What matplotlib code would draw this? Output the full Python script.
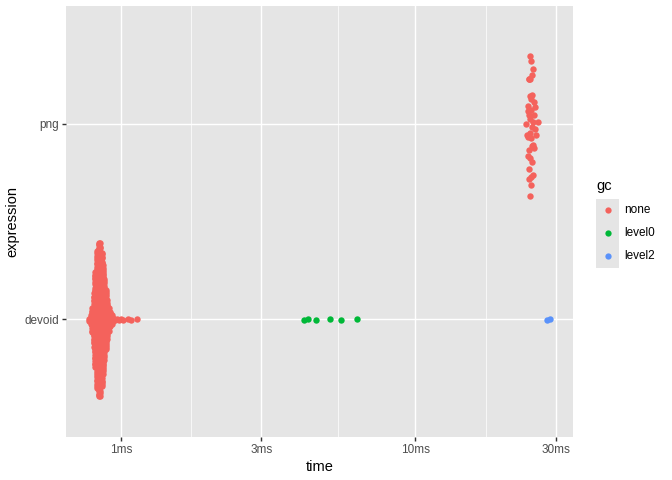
import numpy as np
import matplotlib
matplotlib.use("Agg")
import matplotlib.pyplot as plt
from matplotlib.patches import Rectangle
from matplotlib.lines import Line2D

plt.rcParams['font.family'] = ['Liberation Sans', 'DejaVu Sans']

# run times in ms, read off the swarm
# devoid / gc none: dense body given as bin value + count, then a few slow runs
devoid_none_ms = [0.78, 0.79, 0.80, 0.81, 0.82, 0.83, 0.84, 0.85, 0.86,
                  0.87, 0.88, 0.89, 0.90, 0.91, 0.92, 0.93, 0.94]
devoid_none_n = [2, 5, 12, 26, 45, 64, 72, 70, 62, 50, 38, 27, 18, 11, 7, 4, 2]
devoid_none_tail_ms = [0.955, 0.97, 0.985, 1.0, 1.02, 1.055, 1.085, 1.135]
devoid_level0_ms = [4.19, 4.31, 4.59, 5.14, 5.61, 6.35]
devoid_level2_ms = [27.87, 28.62]
png_none_ms = [23.72, 23.95, 24.03, 24.09, 24.14, 24.17, 24.22, 24.26, 24.28,
               24.33, 24.35, 24.39, 24.41, 24.45, 24.48, 24.50, 24.54, 24.57,
               24.58, 24.63, 24.66, 24.68, 24.70, 24.75, 24.77, 24.81, 24.84,
               24.86, 24.91, 24.93, 24.98, 25.03, 25.06, 25.12, 25.17, 25.24,
               25.31, 25.42, 25.51, 25.66, 25.98]

expressions = ["devoid", "png"]
gc_levels = ["none", "level0", "level2"]
gc_colors = ["#F4625C", "#00B838", "#5A92FA"]
x_breaks_ms = [1, 3, 10, 30]
x_labels = ["1ms", "3ms", "10ms", "30ms"]

PANEL_BG = "#E5E5E5"


def van_der_corput(n, base=2):
    out = []
    for i in range(1, n + 1):
        q, denom, v = i, 1.0, 0.0
        while q:
            denom *= base
            q, r = divmod(q, base)
            v += r / denom
        out.append(v)
    return np.array(out)


def nrd0(x):
    sd = np.std(x, ddof=1)
    q75, q25 = np.percentile(x, [75, 25])
    lo = min(sd, (q75 - q25) / 1.34)
    if lo <= 0:
        lo = sd if sd > 0 else 1.0
    return 0.9 * lo * len(x) ** -0.2


def quasirandom(v, width=0.4, adjust=0.5):
    """offsets like ggbeeswarm::geom_quasirandom (density scaled van der Corput)"""
    v = np.asarray(v, dtype=float)
    if len(v) < 2:
        return np.zeros(len(v))
    bw = nrd0(v) * adjust
    d = np.exp(-0.5 * ((v[:, None] - v[None, :]) / bw) ** 2).sum(axis=1)
    d = d / d.max()
    rank = np.argsort(np.argsort(v, kind="stable"), kind="stable")
    return (van_der_corput(len(v))[rank] - 0.5) * 2 * d * width


# (expression, gc, time) records
rows = []
for t in np.repeat(devoid_none_ms, devoid_none_n):
    rows.append((0, 0, t))
for t in devoid_none_tail_ms:
    rows.append((0, 0, t))
for t in devoid_level0_ms:
    rows.append((0, 1, t))
for t in devoid_level2_ms:
    rows.append((0, 2, t))
for t in png_none_ms:
    rows.append((1, 0, t))
rows = np.array(rows)

expr = rows[:, 0].astype(int)
gc = rows[:, 1].astype(int)
times = rows[:, 2]
ypos = expr + 1.0
for e in range(len(expressions)):
    m = expr == e
    ypos[m] += quasirandom(np.log10(times[m]))

fig = plt.figure(figsize=(7, 5), dpi=96)
ax = fig.add_axes([66 / 672, 43 / 480, 507 / 672, 431 / 480])
ax.set_facecolor(PANEL_BG)
for s in ax.spines.values():
    s.set_visible(False)

for g, col in enumerate(gc_colors):
    m = gc == g
    ax.scatter(times[m], ypos[m], s=23, color=col, linewidths=0, zorder=3)

ax.set_xscale("log")
lo, hi = np.log10(times.min()), np.log10(times.max())
pad = 0.05 * (hi - lo)
ax.set_xlim(10 ** (lo - pad), 10 ** (hi + pad))
ax.set_ylim(0.4, 2.6)
ax.set_xticks(x_breaks_ms)
ax.set_xticklabels(x_labels)
ax.set_xticks([np.sqrt(x_breaks_ms[i] * x_breaks_ms[i + 1]) for i in range(3)], minor=True)
ax.set_xticklabels([], minor=True)
ax.set_yticks([1, 2])
ax.set_yticklabels(expressions)
ax.tick_params(which="major", length=2.75, width=1.07, color="#333333",
               labelsize=8.8, labelcolor="#4D4D4D", pad=2.2)
ax.tick_params(which="minor", length=0)
ax.grid(which="major", color="white", lw=1.07)
ax.grid(which="minor", axis="x", color="white", lw=0.53)
ax.set_axisbelow(True)
ax.set_xlabel("time", fontsize=11, labelpad=3)
ax.set_ylabel("expression", fontsize=11, labelpad=4)


def px(x, y):
    return x / 672, 1 - y / 480


# legend
fig.text(*px(596.5, 186), "gc", fontsize=11, va="center", ha="left")
fig.add_artist(Rectangle(px(596, 267.7), 23 / 672, 69 / 480, transform=fig.transFigure,
                         facecolor=PANEL_BG, edgecolor="none"))
for i, (lab, col) in enumerate(zip(gc_levels, gc_colors)):
    yc = 210.2 + 23 * i
    fig.add_artist(Line2D([607.5 / 672], [1 - yc / 480], marker="o", ms=4.7, color=col,
                          mew=0, lw=0, transform=fig.transFigure))
    fig.text(*px(624, yc), lab, fontsize=8.8, va="center", ha="left")

fig.savefig("out.png", dpi=96)
